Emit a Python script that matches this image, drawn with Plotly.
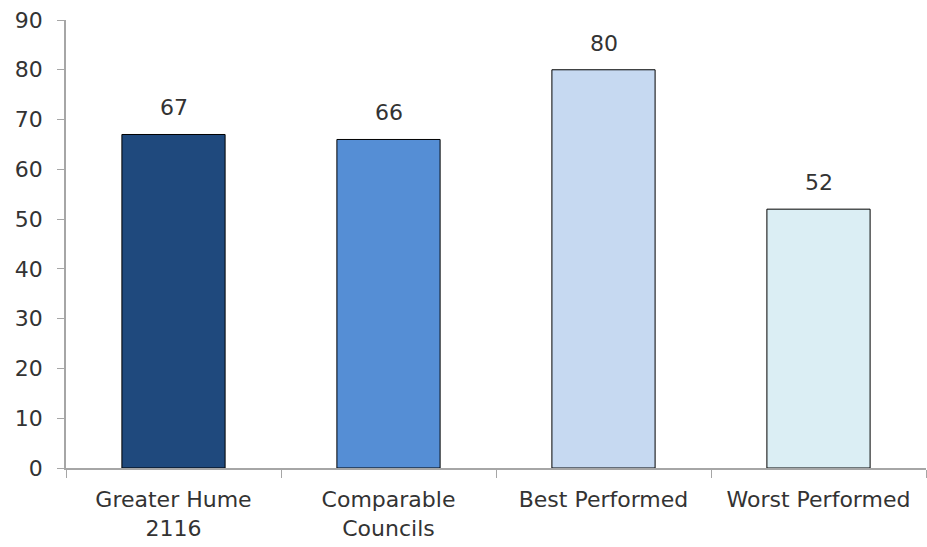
import plotly.graph_objects as go

categories = ["Greater Hume<br>2116", "Comparable<br>Councils", "Best Performed", "Worst Performed"]
values = [67, 66, 80, 52]
bar_colors = ["#1F497D", "#558ED5", "#C6D9F1", "#DBEEF4"]
y_ticks = [0, 10, 20, 30, 40, 50, 60, 70, 80, 90]

font_family = "DejaVu Sans, sans-serif"
text_color = "#333333"
axis_grey = "#A6A6A6"
font_size = 22

fig = go.Figure(
    go.Bar(
        x=categories,
        y=values,
        marker=dict(color=bar_colors, line=dict(color="#000000", width=1)),
        hoverinfo="x+y",
    )
)

# Value labels sitting above each bar
for cat, val in zip(categories, values):
    fig.add_annotation(
        x=cat,
        y=val,
        text=str(val),
        showarrow=False,
        yanchor="bottom",
        yshift=12,
        font=dict(family=font_family, size=font_size, color=text_color),
    )

fig.update_layout(
    width=927,
    height=547,
    margin=dict(l=66, r=1, t=20, b=79),
    paper_bgcolor="white",
    plot_bgcolor="white",
    bargap=0.52,
    showlegend=False,
    font=dict(family=font_family, size=font_size, color=text_color),
)

fig.update_yaxes(
    range=[0, 90],
    tickvals=y_ticks,
    showgrid=False,
    zeroline=False,
    showline=True,
    linecolor=axis_grey,
    linewidth=1.5,
    ticks="outside",
    ticklen=7,
    tickcolor=axis_grey,
    ticklabelstandoff=10,
    automargin=False,
    tickfont=dict(family=font_family, size=font_size, color=text_color),
)

fig.update_xaxes(
    showgrid=False,
    showline=True,
    linecolor=axis_grey,
    linewidth=1.5,
    ticks="outside",
    tickson="boundaries",
    ticklen=8,
    tickcolor=axis_grey,
    ticklabelstandoff=11,
    automargin=False,
    tickfont=dict(family=font_family, size=font_size, color=text_color),
)

fig.write_html("out.html")
